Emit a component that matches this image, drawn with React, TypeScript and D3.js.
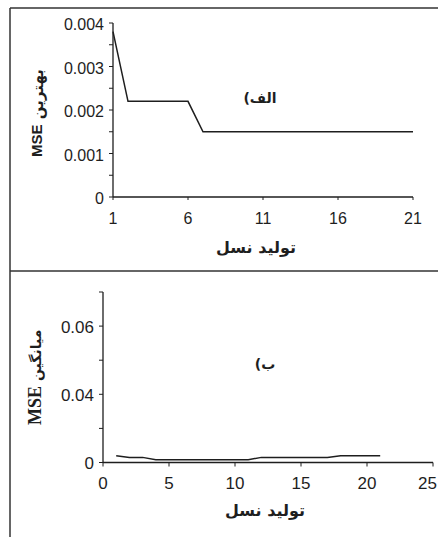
import React from "react";
import * as d3 from "d3";

// ---- Data ----
const generationsA = [1, 2, 3, 4, 5, 6, 7, 8, 9, 10, 11, 12, 13, 14, 15, 16, 17, 18, 19, 20, 21];
const bestMSE = [0.0038, 0.0022, 0.0022, 0.0022, 0.0022, 0.0022, 0.0015, 0.0015, 0.0015, 0.0015, 0.0015, 0.0015, 0.0015, 0.0015, 0.0015, 0.0015, 0.0015, 0.0015, 0.0015, 0.0015, 0.0015];
const xTicksA = [1, 6, 11, 16, 21];
const yTicksA = [0, 0.0005, 0.001, 0.0015, 0.002, 0.0025, 0.003, 0.0035, 0.004];
const yLabelsA = ["0", "", "0.001", "", "0.002", "", "0.003", "", "0.004"];

const generationsB = [1, 2, 3, 4, 5, 6, 7, 8, 9, 10, 11, 12, 13, 14, 15, 16, 17, 18, 19, 20, 21];
const meanMSE = [0.002, 0.0015, 0.0015, 0.0008, 0.0008, 0.0008, 0.0008, 0.0008, 0.0008, 0.0008, 0.0008, 0.0015, 0.0015, 0.0015, 0.0015, 0.0015, 0.0015, 0.002, 0.002, 0.002, 0.002];
const xTicksB = [0, 5, 10, 15, 20, 25];
const yTicksB = [0, 0.01, 0.02, 0.03, 0.04, 0.05];
const yLabelsB = ["0", "", "0.04", "", "0.06", ""];

const titleA = "الف)";
const titleB = "ب)";
const xTitle = "تولید نسل";
const yTitleA = ["بهترین", "MSE"];
const yTitleB = ["میانگین", "MSE"];

const W = 438;
const H = 537;
const ink = "#1e1e1e";
const sans = "'Liberation Sans', Arial, sans-serif";
const arabic = "'DejaVu Sans', sans-serif";

export default function App() {
  // Panel A scales
  const xA = d3.scaleLinear().domain([1, 21]).range([113, 413]);
  const yA = d3.scaleLinear().domain([0, 0.004]).range([197, 23]);
  // Panel B scales
  const xB = d3.scaleLinear().domain([0, 25]).range([103, 433]);
  const yB = d3.scaleLinear().domain([0, 0.05]).range([462.5, 292]);

  const lineA = d3
    .line<number>()
    .x((_, i) => xA(generationsA[i]))
    .y((d) => yA(d));
  const lineB = d3
    .line<number>()
    .x((_, i) => xB(generationsB[i]))
    .y((d) => yB(d));

  return (
    <svg
      width={W}
      height={H}
      style={{ position: "absolute", left: 0, top: 0, background: "#fff" }}
    >
      <rect x={0} y={0} width={W} height={H} fill="#fff" />
      {/* panel frames */}
      <line x1={10} y1={8} x2={W} y2={8} stroke="#333" strokeWidth={1.5} />
      <line x1={10} y1={8} x2={10} y2={H} stroke="#333" strokeWidth={1.5} />
      <line x1={10} y1={271} x2={W} y2={271} stroke="#333" strokeWidth={1.5} />

      {/* ---------- Panel A ---------- */}
      <g>
        <line x1={xA(1)} y1={yA(0.004)} x2={xA(1)} y2={yA(0)} stroke={ink} strokeWidth={1.3} />
        <line x1={xA(1)} y1={yA(0)} x2={xA(21)} y2={yA(0)} stroke={ink} strokeWidth={1.3} />
        {yTicksA.map((t, i) => (
          <g key={"ya" + i}>
            <line x1={xA(1) - 4} x2={xA(1)} y1={yA(t)} y2={yA(t)} stroke={ink} strokeWidth={1} />
            {yLabelsA[i] && (
              <text
                x={xA(1) - 9}
                y={yA(t) + 3}
                textAnchor="end"
                dominantBaseline="middle"
                fontFamily={sans}
                fontSize={16}
                fill={ink}
              >
                {yLabelsA[i]}
              </text>
            )}
          </g>
        ))}
        {xTicksA.map((t) => (
          <g key={"xa" + t}>
            <line x1={xA(t)} x2={xA(t)} y1={yA(0)} y2={yA(0) + 3} stroke={ink} strokeWidth={1} />
            <text
              x={xA(t)}
              y={220}
              textAnchor="middle"
              dominantBaseline="middle"
              fontFamily={sans}
              fontSize={16}
              fill={ink}
            >
              {t}
            </text>
          </g>
        ))}
        <path d={lineA(bestMSE) || ""} fill="none" stroke={ink} strokeWidth={1.5} />
        <text x={260} y={99} textAnchor="middle" dominantBaseline="middle" fontFamily={arabic} fontWeight="bold" fontSize={14} fill={ink} direction="rtl" unicodeBidi="embed">
          {titleA}
        </text>
        <text x={256} y={248} textAnchor="middle" dominantBaseline="middle" fontFamily={arabic} fontWeight="bold" fontSize={16} fill={ink} direction="rtl">
          {xTitle}
        </text>
        <text
          transform={`translate(38, ${(yA(0) + yA(0.004)) / 2 + 3}) rotate(-90)`}
          textAnchor="middle"
          dominantBaseline="middle"
          fill={ink}
          fontWeight="bold"
        >
          <tspan fontFamily={sans} fontSize={15}>{yTitleA[1]}</tspan>
          <tspan fontFamily={arabic} fontSize={15}>{"  " + yTitleA[0]}</tspan>
        </text>
      </g>

      {/* ---------- Panel B ---------- */}
      <g>
        <line x1={xB(0)} y1={yB(0.05)} x2={xB(0)} y2={yB(0)} stroke={ink} strokeWidth={1.3} />
        <line x1={xB(0)} y1={yB(0)} x2={xB(25)} y2={yB(0)} stroke={ink} strokeWidth={1.3} />
        {yTicksB.map((t, i) => (
          <g key={"yb" + i}>
            <line x1={xB(0) - 4} x2={xB(0)} y1={yB(t)} y2={yB(t)} stroke={ink} strokeWidth={1} />
            {yLabelsB[i] && (
              <text
                x={xB(0) - 9}
                y={yB(t) + 2}
                textAnchor="end"
                dominantBaseline="middle"
                fontFamily={sans}
                fontSize={17}
                fill={ink}
              >
                {yLabelsB[i]}
              </text>
            )}
          </g>
        ))}
        {xTicksB.map((t, i) => {
          const last = i === xTicksB.length - 1;
          return (
            <g key={"xb" + t}>
              <line x1={xB(t)} x2={xB(t)} y1={yB(0)} y2={yB(0) + 4} stroke={ink} strokeWidth={1} />
              <text
                x={last ? W - 1 : xB(t)}
                y={485}
                textAnchor={last ? "end" : "middle"}
                dominantBaseline="middle"
                fontFamily={sans}
                fontSize={17}
                fill={ink}
              >
                {t}
              </text>
            </g>
          );
        })}
        <path d={lineB(meanMSE) || ""} fill="none" stroke={ink} strokeWidth={1.5} />
        <text x={265} y={365} textAnchor="middle" dominantBaseline="middle" fontFamily={arabic} fontWeight="bold" fontSize={14} fill={ink} direction="rtl" unicodeBidi="embed">
          {titleB}
        </text>
        <text x={265} y={511} textAnchor="middle" dominantBaseline="middle" fontFamily={arabic} fontWeight="bold" fontSize={16} fill={ink} direction="rtl">
          {xTitle}
        </text>
        <text
          transform={`translate(37, ${(yB(0) + yB(0.05)) / 2}) rotate(-90)`}
          textAnchor="middle"
          dominantBaseline="middle"
          fill={ink}
          fontWeight="bold"
        >
          <tspan fontFamily="'Liberation Serif', 'Times New Roman', serif" fontSize={18}>{yTitleB[1]}</tspan>
          <tspan fontFamily={arabic} fontSize={14}>{"  " + yTitleB[0]}</tspan>
        </text>
      </g>
    </svg>
  );
}
